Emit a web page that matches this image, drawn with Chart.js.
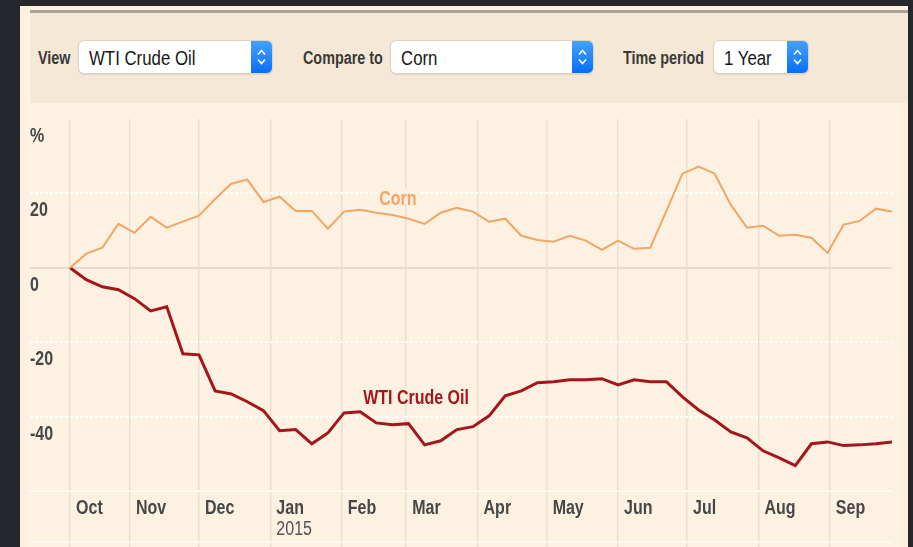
<!DOCTYPE html>
<html>
<head>
<meta charset="utf-8">
<script src="https://cdn.jsdelivr.net/npm/chart.js@4.4.0/dist/chart.umd.min.js"></script>
<style>
  html, body { margin: 0; padding: 0; }
  body { width: 913px; height: 547px; background: #26272c; position: relative; overflow: hidden;
         font-family: 'Liberation Sans', Arial, sans-serif; }
  #panel { position: absolute; left: 20px; top: 6px; width: 888px; height: 541px; background: #fdf1e2; }
  #topline { position: absolute; left: 30px; top: 10px; width: 878px; height: 3px; background: #a9a59b; }
  #header { position: absolute; left: 30px; top: 13px; width: 878px; height: 90px; background: #f5e8d7; }
  .narrow { display: inline-block; transform: scaleX(0.82); transform-origin: 0 50%; white-space: nowrap; }
  .lbl { position: absolute; top: 48px; font-weight: bold; font-size: 17.5px; line-height: 20px; color: #3a3a3a; }
  .sel { position: absolute; top: 41px; height: 32px; background: #fff; border-radius: 5px;
         box-shadow: 0 0 0 1px #ddd3c5, 0 1px 2px rgba(0, 0, 0, 0.25); }
  .sel > .narrow { position: absolute; left: 10px; top: 6px; font-size: 20.5px; line-height: 22px; color: #161616; }
  .sel .btn { position: absolute; right: 0; top: 0; width: 21px; height: 32px; border-radius: 0 5px 5px 0;
              background: linear-gradient(#45a2ff, #0a6ef4); }
  .sel svg { position: absolute; left: 5px; top: 7px; }
  #wrap { position: absolute; left: 20px; top: 103px; width: 887px; height: 444px; }
</style>
</head>
<body>
<div id="panel"></div>
<div id="topline"></div>
<div id="header"></div>

<div class="lbl" style="left:38px"><span class="narrow">View</span></div>
<div class="sel" style="left:79px;width:193px"><span class="narrow">WTI Crude Oil</span>
  <div class="btn"><svg width="11" height="18"><polyline points="2,6.5 5.5,2.5 9,6.5" fill="none" stroke="#fff" stroke-width="1.6"/><polyline points="2,11.5 5.5,15.5 9,11.5" fill="none" stroke="#fff" stroke-width="1.6"/></svg></div></div>

<div class="lbl" style="left:303px"><span class="narrow">Compare to</span></div>
<div class="sel" style="left:391px;width:202px"><span class="narrow">Corn</span>
  <div class="btn"><svg width="11" height="18"><polyline points="2,6.5 5.5,2.5 9,6.5" fill="none" stroke="#fff" stroke-width="1.6"/><polyline points="2,11.5 5.5,15.5 9,11.5" fill="none" stroke="#fff" stroke-width="1.6"/></svg></div></div>

<div class="lbl" style="left:623px"><span class="narrow">Time period</span></div>
<div class="sel" style="left:714px;width:94px"><span class="narrow">1 Year</span>
  <div class="btn"><svg width="11" height="18"><polyline points="2,6.5 5.5,2.5 9,6.5" fill="none" stroke="#fff" stroke-width="1.6"/><polyline points="2,11.5 5.5,15.5 9,11.5" fill="none" stroke="#fff" stroke-width="1.6"/></svg></div></div>

<div id="wrap"><canvas id="chart"></canvas></div>

<script>
// days since the first weekly reading (6 Oct 2014) where each month begins
const monthStarts = [0, 26, 56, 87, 118, 146, 177, 207, 238, 268, 299, 330];
const monthLabels = ['Oct', 'Nov', 'Dec', 'Jan', 'Feb', 'Mar', 'Apr', 'May', 'Jun', 'Jul', 'Aug', 'Sep'];
const yearMonth = 'Jan';
const yearText = '2015';

const yTicks = [-40, -20, 0, 20, 40];
const yTickLabels = ['-40', '-20', '0', '20', '%'];
const baseline = 0;

// weekly % change since start
const cornValues = [0, 3.8, 5.4, 11.8, 9.4, 13.7, 10.8, 12.4, 14.0, 18.5, 22.6, 23.7, 17.7, 19.1, 15.3, 15.3,
  10.5, 15.1, 15.6, 14.8, 14.2, 13.2, 11.8, 14.8, 16.1, 15.1, 12.4, 13.2, 8.6, 7.5, 7.0, 8.6, 7.3, 4.8, 7.3,
  5.1, 5.4, 15.3, 25.3, 27.2, 25.3, 16.9, 10.8, 11.3, 8.6, 8.9, 8.1, 4.0, 11.6, 12.6, 15.9, 15.1];
const wtiValues = [0, -3.2, -5.1, -5.9, -8.3, -11.6, -10.5, -23.1, -23.4, -33.1, -33.9, -36.0, -38.4, -43.8,
  -43.5, -47.3, -44.4, -39.0, -38.7, -41.7, -42.2, -41.9, -47.6, -46.5, -43.5, -42.7, -39.8, -34.4, -33.1,
  -30.9, -30.6, -30.1, -30.1, -29.8, -31.5, -30.1, -30.6, -30.6, -34.7, -38.2, -40.9, -44.1, -45.7, -49.2,
  -51.1, -53.2, -47.3, -46.8, -47.8, -47.6, -47.3, -46.8];
const weekDays = wtiValues.map((_, i) => i * 7);

const FONT = "'Liberation Sans', Arial, sans-serif";
const BG = '#fdf1e2';
const AXIS_TEXT = '#474747';

const toPoints = (vals) => vals.map((v, i) => ({ x: weekDays[i], y: v }));

// canvas has no condensed face installed, so squeeze the sans horizontally
function narrowText(ctx, text, x, y, size, weight, color) {
  ctx.save();
  ctx.font = `${weight} ${size}px ${FONT}`;
  ctx.fillStyle = color;
  ctx.textAlign = 'left';
  ctx.textBaseline = 'alphabetic';
  ctx.translate(x, y);
  ctx.scale(0.82, 1);
  ctx.fillText(text, 0, 0);
  ctx.restore();
}

const extras = {
  id: 'extras',
  afterDatasetsDraw(chart) {
    const { ctx } = chart;
    chart.data.datasets.forEach((ds, di) => {
      const pt = chart.getDatasetMeta(di).data[ds.labelAt];
      ctx.save();
      ctx.font = `bold 19.5px ${FONT}`;
      const w = ctx.measureText(ds.label).width * 0.82;
      ctx.fillStyle = BG;
      ctx.fillRect(pt.x + 1, pt.y - 24, w + 4, 15);
      ctx.restore();
      narrowText(ctx, ds.label, pt.x + 3, pt.y - 8, 19.5, 'bold', ds.borderColor);
    });
  },
  afterDraw(chart) {
    const { ctx, chartArea } = chart;
    const xs = chart.scales.x;
    const ys = chart.scales.y;
    xs.ticks.forEach((t, i) => {
      narrowText(ctx, monthLabels[i], xs.getPixelForValue(t.value) + 6, xs.top + 23, 19.5, 'bold', AXIS_TEXT);
    });
    narrowText(ctx, yearText, xs.getPixelForValue(monthStarts[monthLabels.indexOf(yearMonth)]) + 6,
      xs.top + 44, 19.5, 'normal', '#555');
    ys.ticks.forEach((t, i) => {
      narrowText(ctx, yTickLabels[i], chartArea.left, ys.getPixelForValue(t.value) + 23, 19.5, 'bold', AXIS_TEXT);
    });
    ctx.save();
    ctx.strokeStyle = '#fffaf2';
    ctx.lineWidth = 1.5;
    ctx.beginPath();
    ctx.moveTo(chartArea.left, chart.height - 5);
    ctx.lineTo(chartArea.right, chart.height - 5);
    ctx.stroke();
    ctx.restore();
  }
};

new Chart(document.getElementById('chart'), {
  type: 'line',
  data: {
    datasets: [
      { label: 'Corn', data: toPoints(cornValues), borderColor: '#f2a564', borderWidth: 2,
        pointRadius: 0, tension: 0, yAxisID: 'y', labelAt: 19 },
      { label: 'WTI Crude Oil', data: toPoints(wtiValues), borderColor: '#a3161c', borderWidth: 3,
        pointRadius: 0, tension: 0, yAxisID: 'y', labelAt: 18 },
    ],
  },
  options: {
    responsive: true,
    maintainAspectRatio: false,
    animation: false,
    layout: { padding: { left: 10, right: 15, top: 16, bottom: 0 } },
    plugins: { legend: { display: false }, tooltip: { enabled: false } },
    scales: {
      x: {
        type: 'linear', min: -17.4, max: 357,
        afterBuildTicks: (s) => { s.ticks = monthStarts.map((v) => ({ value: v })); },
        afterFit: (s) => { s.height = 56; },
        grid: { color: '#eadfcf', lineWidth: 1.5, tickLength: 56, tickColor: '#eadfcf' },
        border: { display: true, color: '#fffaf2', width: 2 },
        ticks: { display: false },
      },
      y: {
        min: -60, max: 40,
        afterBuildTicks: (s) => { s.ticks = yTicks.map((v) => ({ value: v })); },
        afterFit: (s) => { s.width = 0; },
        grid: {
          color: (c) => (c.tick && (c.tick.value === baseline || c.tick.value === 40)) ? 'rgba(0,0,0,0)' : 'rgba(255,255,255,0.9)',
          lineWidth: 2, drawTicks: false,
        },
        border: { display: false, dash: [3, 2] },
        ticks: { display: false },
      },
      y2: {
        type: 'linear', position: 'left', min: -60, max: 40,
        afterBuildTicks: (s) => { s.ticks = [{ value: baseline }]; },
        afterFit: (s) => { s.width = 0; },
        grid: { color: '#e8dccb', lineWidth: 2, drawTicks: false },
        border: { display: false },
        ticks: { display: false },
      },
    },
  },
  plugins: [extras],
});
</script>
</body>
</html>
